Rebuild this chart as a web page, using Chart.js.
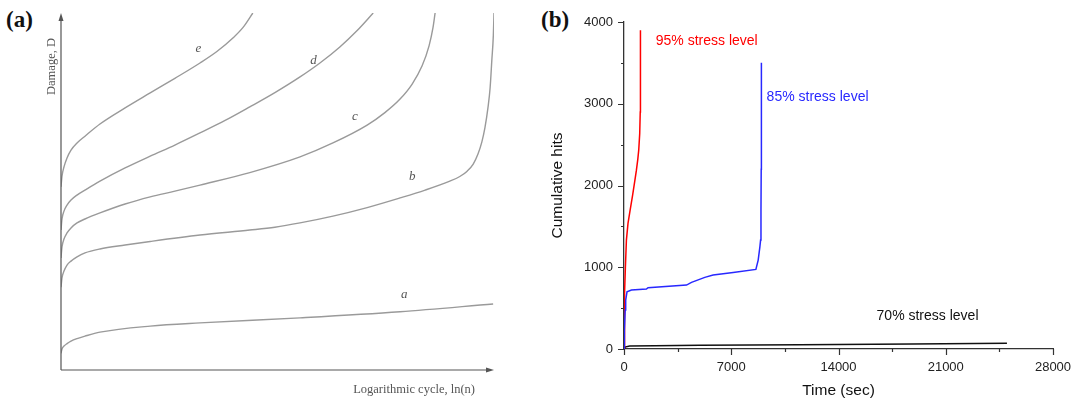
<!DOCTYPE html>
<html lang="en">
<head>
<meta charset="UTF-8">
<title>Damage curves and cumulative hits</title>
<style>
    body {
        margin: 0;
        width: 1074px;
        height: 401px;
        position: relative;
        overflow: hidden;
        background: #fff;
    }
    canvas {
        position: absolute;
        top: 0;
    }
    #chart-a { left: 0; }
    #chart-b { left: 540px; }
    .tag {
        position: absolute;
        top: 8px;
        font: bold 23px "Liberation Serif", "Times New Roman", serif;
        line-height: 1;
        color: #111;
    }
</style>
<script src="https://cdn.jsdelivr.net/npm/chart.js"></script>
</head>
<body>
<div class="tag" style="left:6px">(a)</div>
<div class="tag" style="left:541px">(b)</div>
<canvas id="chart-a" width="540" height="401"></canvas>
<canvas id="chart-b" width="534" height="401"></canvas>
<script>
// (a) damage vs logarithmic cycle, both axes on a 0-100 schematic scale
const curveNames = ['a', 'b', 'c', 'd', 'e'];
const cycleA = [0, 0.23, 0.69, 1.39, 2.31, 3.7, 5.54, 9, 20.6, 32.1, 55.2, 78.3, 99.8];
const damageA = [4.7, 5.9, 6.7, 7.4, 8.1, 8.8, 9.5, 10.6, 12.3, 13.2, 14.6, 16.3, 18.5];
const cycleB = [0, 0.23, 0.69, 1.39, 2.31, 3.7, 5.54, 9, 14.8, 20.6, 32.1, 43.6, 49.4, 55.2, 62.8, 70.7, 78.3, 84.1, 89.8, 92.1, 93.8, 95.2, 96.3, 97.2, 97.9, 98.6, 99.1, 99.5, 99.85, 100];
const damageB = [23.2, 25.8, 27.7, 29.4, 30.5, 31.7, 32.8, 33.9, 35, 36, 37.8, 39.2, 40.0, 41.2, 43.1, 45.5, 48.2, 50.4, 52.9, 54.2, 55.7, 57.7, 60.5, 63.9, 67.8, 73.4, 79, 86.8, 93.8, 100];
const cycleC = [0, 0.23, 0.69, 1.39, 2.31, 3.7, 5.54, 9, 14.8, 20.6, 26.3, 32.1, 43.6, 55.2, 62.8, 70.7, 74.8, 78.3, 81.1, 83.4, 85, 85.9, 86.4];
const damageC = [31.4, 34.5, 36.7, 38.4, 39.8, 41.2, 42.3, 44, 46.5, 48.5, 50.1, 51.8, 55.3, 59.7, 63.6, 68.6, 72.1, 75.9, 80.1, 85.2, 90.8, 95.8, 100];
const cycleD = [0, 0.23, 0.69, 1.39, 2.31, 3.7, 5.54, 9, 14.8, 20.6, 26.3, 32.1, 37.9, 43.6, 49.4, 55.2, 59.8, 64.4, 68.4, 72.1];
const damageD = [39.2, 42.3, 44.5, 46.2, 47.6, 49, 50.4, 52.9, 56.6, 59.9, 63, 66.4, 69.9, 73.7, 77.7, 82.1, 86.0, 90.5, 95.1, 100];
const cycleE = [0, 0.23, 0.69, 1.39, 2.31, 3.7, 5.54, 9, 14.8, 20.6, 26.3, 32.1, 36, 39.7, 42, 44.3];
const damageE = [51.3, 54.3, 56.9, 59.4, 61.6, 63.6, 65.5, 68.9, 73.4, 77.6, 81.7, 86, 89.2, 93, 95.9, 100];
// where each curve letter sits, in the same units
const labelCycle = [79.3, 81.1, 67.9, 58.3, 31.7];
const labelDamage = [21, 54.1, 71, 86.6, 90.1];

// (b) cumulative acoustic emission hits vs time
const seriesNames = ['85% stress level', '95% stress level', '70% stress level'];
const timeBlue = [0, 26, 78, 111, 196, 484, 1464, 1569, 4078, 4405, 5275, 5817, 7124, 8608, 8758, 8869, 8915, 8940, 8955, 8965, 8970];
const hitsBlue = [0, 232, 477, 599, 700, 721, 733, 749, 782, 815, 876, 904, 937, 974, 1088, 1250, 1332, 1700, 2200, 3000, 3501];
const timeRed = [0, 20, 50, 92, 157, 261, 400, 560, 700, 810, 900, 961, 1026, 1060, 1072, 1075];
const hitsRed = [0, 400, 680, 1006, 1332, 1536, 1700, 1880, 2050, 2187, 2320, 2432, 2636, 2900, 3043, 3898];
const timeBlack = [0, 65, 373, 2007, 4948, 11484, 18785, 24994];
const hitsBlack = [0, 24, 37, 40, 46, 53, 61, 70];
const timeTicks = [0, 7000, 14000, 21000, 28000];
const hitTicks = [0, 1000, 2000, 3000, 4000];
// label anchors (left edge, vertical middle) in data units
const noteTime = [9307, 2072, 16484];
const noteHits = [3083, 3767, 397];

const serif = '"Liberation Serif", "Times New Roman", serif';
const sans = '"Liberation Sans", Arial, sans-serif';
const RED = 'rgb(255, 0, 0)';
const BLUE = 'rgb(40, 40, 255)';
const BLACK = '#111';

function points(xs, ys) {
    return xs.map((x, i) => ({ x: x, y: ys[i] }));
}

// axes with arrowheads plus the text of panel (a)
const schematicAxes = {
    id: 'schematicAxes',
    afterDraw(chart) {
        const { ctx, chartArea: ca, scales } = chart;
        ctx.save();
        ctx.strokeStyle = '#555';
        ctx.fillStyle = '#555';
        ctx.lineWidth = 1.2;
        ctx.beginPath();
        ctx.moveTo(ca.left, ca.bottom);
        ctx.lineTo(ca.left, ca.top + 4);
        ctx.moveTo(ca.left, ca.bottom);
        ctx.lineTo(ca.right - 4, ca.bottom);
        ctx.stroke();
        ctx.beginPath();
        ctx.moveTo(ca.left, ca.top);
        ctx.lineTo(ca.left - 2.5, ca.top + 8);
        ctx.lineTo(ca.left + 2.5, ca.top + 8);
        ctx.closePath();
        ctx.fill();
        ctx.beginPath();
        ctx.moveTo(ca.right, ca.bottom);
        ctx.lineTo(ca.right - 8, ca.bottom - 2.5);
        ctx.lineTo(ca.right - 8, ca.bottom + 2.5);
        ctx.closePath();
        ctx.fill();

        ctx.font = '12.5px ' + serif;
        ctx.textBaseline = 'middle';
        ctx.textAlign = 'right';
        ctx.fillText('Logarithmic cycle, ln(n)', ca.right - 19, ca.bottom + 20);
        ctx.save();
        ctx.translate(ca.left - 9.5, ca.top + 53.5);
        ctx.rotate(-Math.PI / 2);
        ctx.textAlign = 'center';
        ctx.fillText('Damage, D', 0, 0);
        ctx.restore();

        ctx.font = 'italic 13px ' + serif;
        ctx.textAlign = 'center';
        curveNames.forEach((name, i) => {
            ctx.fillText(name, scales.x.getPixelForValue(labelCycle[i]), scales.y.getPixelForValue(labelDamage[i]));
        });
        ctx.restore();
    }
};

const curveStyle = {
    borderColor: '#9a9a9a',
    borderWidth: 1.4,
    pointRadius: 0,
    fill: false,
    cubicInterpolationMode: 'monotone'
};

new Chart(document.getElementById('chart-a'), {
    type: 'line',
    data: {
        datasets: [
            [cycleA, damageA], [cycleB, damageB], [cycleC, damageC], [cycleD, damageD], [cycleE, damageE]
        ].map((c, i) => Object.assign({ label: curveNames[i], data: points(c[0], c[1]) }, curveStyle))
    },
    options: {
        responsive: false,
        animation: false,
        layout: { padding: { left: 61, right: 46, top: 13, bottom: 31 } },
        plugins: { legend: { display: false }, tooltip: { enabled: false } },
        scales: {
            x: { type: 'linear', min: 0, max: 100, display: false },
            y: { type: 'linear', min: 0, max: 100, display: false }
        }
    },
    plugins: [schematicAxes]
});

// outward tick marks: long at labelled values, short halfway between
const tickMarks = {
    id: 'tickMarks',
    afterDraw(chart) {
        const { ctx, chartArea: ca, scales } = chart;
        ctx.save();
        ctx.strokeStyle = '#333';
        ctx.lineWidth = 1.2;
        ctx.beginPath();
        scales.x.ticks.forEach(t => {
            const px = Math.round(scales.x.getPixelForValue(t.value)) + 0.5;
            const len = timeTicks.includes(t.value) ? 6 : 3;
            ctx.moveTo(px, ca.bottom);
            ctx.lineTo(px, ca.bottom + len);
        });
        scales.y.ticks.forEach(t => {
            const py = Math.round(scales.y.getPixelForValue(t.value)) + 0.5;
            const len = hitTicks.includes(t.value) ? 6 : 3;
            ctx.moveTo(ca.left, py);
            ctx.lineTo(ca.left - len, py);
        });
        ctx.stroke();
        ctx.restore();
    }
};

// series names written next to their curves
const seriesNotes = {
    id: 'seriesNotes',
    afterDatasetsDraw(chart) {
        const { ctx, scales } = chart;
        const colors = [BLUE, RED, BLACK];
        ctx.save();
        ctx.font = '14px ' + sans;
        ctx.textAlign = 'left';
        ctx.textBaseline = 'middle';
        seriesNames.forEach((name, i) => {
            ctx.fillStyle = colors[i];
            ctx.fillText(name, scales.x.getPixelForValue(noteTime[i]), scales.y.getPixelForValue(noteHits[i]));
        });
        ctx.restore();
    }
};

const tickFont = { family: sans, size: 13 };
const titleFont = { family: sans, size: 15.5 };

new Chart(document.getElementById('chart-b'), {
    type: 'line',
    data: {
        datasets: [
            { label: seriesNames[0], data: points(timeBlue, hitsBlue), borderColor: BLUE },
            { label: seriesNames[1], data: points(timeRed, hitsRed), borderColor: RED },
            { label: seriesNames[2], data: points(timeBlack, hitsBlack), borderColor: BLACK }
        ].map(d => Object.assign(d, { borderWidth: 1.5, pointRadius: 0, tension: 0, fill: false }))
    },
    options: {
        responsive: false,
        animation: false,
        layout: { padding: { left: 0, right: 21, top: 22, bottom: 0 } },
        plugins: { legend: { display: false }, tooltip: { enabled: false } },
        scales: {
            x: {
                type: 'linear',
                min: 0,
                max: 28000,
                afterFit: s => { s.height = 52; s.paddingRight = 0; s.paddingLeft = 0; },
                grid: { display: true, drawOnChartArea: false, drawTicks: false },
                border: { color: '#333', width: 1.3 },
                ticks: {
                    stepSize: 3500,
                    autoSkip: false,
                    maxRotation: 0,
                    padding: 11,
                    color: '#222',
                    font: tickFont,
                    callback: v => timeTicks.includes(v) ? String(v) : ''
                },
                title: { display: true, text: 'Time (sec)', color: '#111', font: titleFont, padding: { top: 0, bottom: 1 } }
            },
            y: {
                type: 'linear',
                min: 0,
                max: 4000,
                afterFit: s => { s.width = 84; s.paddingTop = 0; s.paddingBottom = 0; },
                grid: { display: true, drawOnChartArea: false, drawTicks: false },
                border: { color: '#333', width: 1.3 },
                ticks: {
                    stepSize: 500,
                    autoSkip: false,
                    padding: 11,
                    color: '#222',
                    font: tickFont,
                    callback: v => hitTicks.includes(v) ? String(v) : ''
                },
                title: { display: true, text: 'Cumulative hits', color: '#111', font: titleFont, padding: { top: 8, bottom: 0 } }
            }
        }
    },
    plugins: [tickMarks, seriesNotes]
});
</script>
</body>
</html>
